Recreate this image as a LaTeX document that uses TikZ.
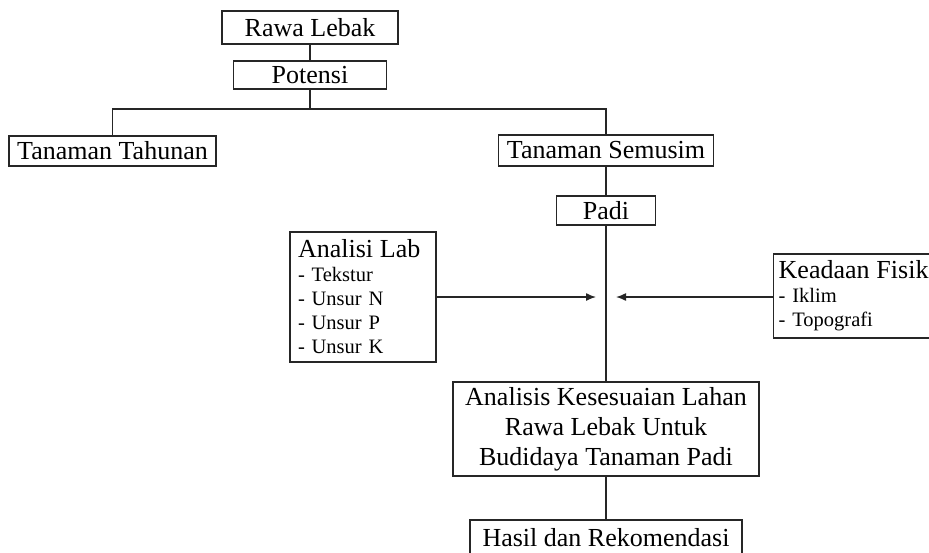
\documentclass[tikz,border=0pt]{standalone}
\usepackage{fontspec}
\setmainfont{Liberation Serif}
\usetikzlibrary{arrows.meta, positioning}

\begin{document}
\begin{tikzpicture}[
  x=0.5pt, y=-0.5pt,
  font=\fontsize{13}{15}\selectfont,
  kbline/.style={draw=black!85, line width=0.7pt},
  kbbox/.style={draw=black!85, fill=white, line width=0.7pt, inner sep=0pt, align=center},
  kblist/.style={kbbox, align=left, inner xsep=4pt, font=\fontsize{10.25}{12}\selectfont},
  kbarrow/.style={kbline, -{Latex[length=5pt, width=4pt]}}
]

% bidang gambar
\fill[white] (0,0) rectangle (929,552);
\useasboundingbox (0,0) rectangle (929,552);
\clip (0,0) rectangle (929,552);

%--------------------------------------------------------------
% Bagian atas: lahan dan potensi
%--------------------------------------------------------------
\node[kbbox, minimum width=88pt, minimum height=16.5pt] (rawa) at (310,27.5) {Rawa Lebak};
\node[kbbox, minimum width=76.5pt, minimum height=14pt] (potensi) at (310,75) {Potensi};

\node[kbbox, minimum width=103.5pt, minimum height=15pt] (tahunan) at (112.5,151) {Tanaman Tahunan};
\node[kbbox, minimum width=107.5pt, minimum height=15.5pt] (semusim) at (606,150.5) {Tanaman Semusim};
\node[kbbox, minimum width=49.5pt, minimum height=14.5pt] (padi) at (606,210.5) {Padi};

\coordinate (cabang) at (310,109);
\draw[kbline] (rawa) -- (potensi);
\draw[kbline] (potensi) -- (cabang);
\draw[kbline] (tahunan.north) |- (cabang) -| (semusim.north);
\draw[kbline] (semusim) -- (padi);

%--------------------------------------------------------------
% Masukan analisis
%--------------------------------------------------------------
\node[kblist, text width=65pt, minimum height=65pt] (lab) at (363,297)
  {{\fontsize{13}{12}\selectfont Analisi Lab}\\ - Tekstur\\ - Unsur N\\ - Unsur P\\ - Unsur K};
\node[kblist, inner xsep=2.5pt, text width=90pt, minimum height=42pt, anchor=west] (fisik) at (773,296)
  {{\fontsize{13}{12}\selectfont Keadaan Fisik}\\ - Iklim\\ - Topografi};

\coordinate (labend) at (596,297);
\coordinate (fisikend) at (616,297);
\draw[kbarrow] (lab.east |- labend) -- (labend);
\draw[kbarrow] (fisik.west |- fisikend) -- (fisikend);

%--------------------------------------------------------------
% Bagian bawah: analisis dan hasil
%--------------------------------------------------------------
\node[kbbox, minimum width=153pt, minimum height=47pt] (analisis) at (606,429)
  {Analisis Kesesuaian Lahan\\ Rawa Lebak Untuk\\ Budidaya Tanaman Padi};
\node[kbbox, minimum width=136pt, minimum height=18pt] (hasil) at (606,538) {Hasil dan Rekomendasi};

\draw[kbline] (padi) -- (analisis);
\draw[kbline] (analisis) -- (hasil);

\end{tikzpicture}
\end{document}
